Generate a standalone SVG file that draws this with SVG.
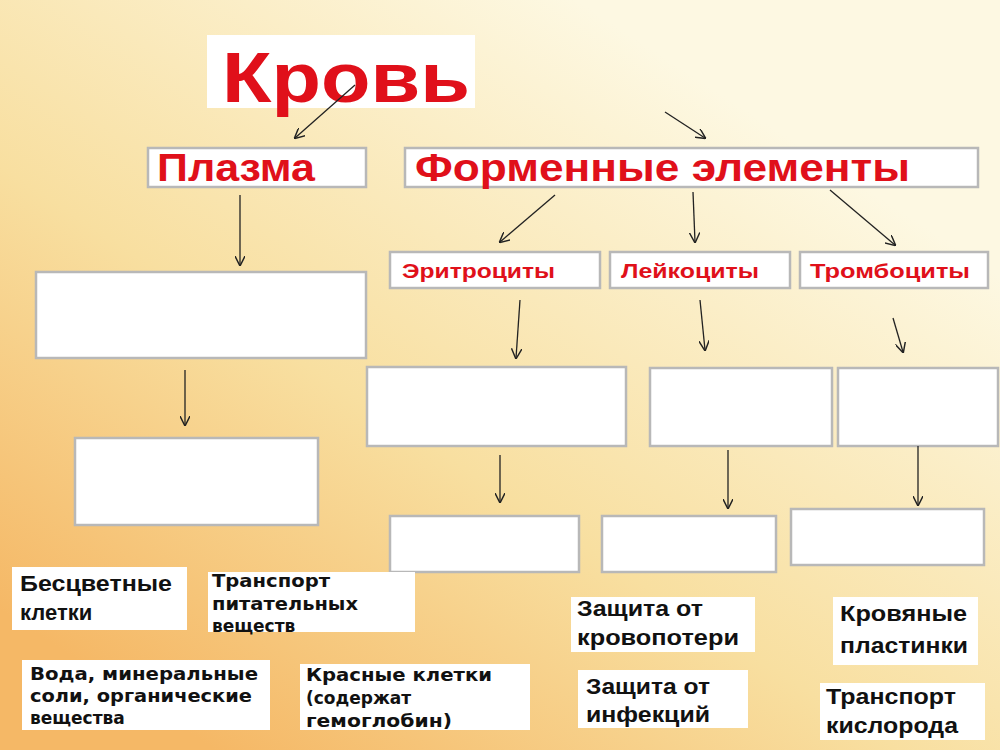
<svg xmlns="http://www.w3.org/2000/svg" width="1000" height="750" viewBox="0 0 1000 750">
<defs>
<linearGradient id="bg" x1="0.1" y1="0.9" x2="0.75" y2="0.15">
<stop offset="0" stop-color="#f5b866"/>
<stop offset="0.45" stop-color="#f8dfa0"/>
<stop offset="1" stop-color="#fdf8e2"/>
</linearGradient>
<marker id="ah" viewBox="0 0 10 10" refX="9" refY="5" markerWidth="8" markerHeight="8" orient="auto"><path d="M0,0 L10,5 L0,10" fill="none" stroke="#222" stroke-width="1.4"/></marker>
</defs>
<style>
.b{fill:#fff;stroke:#b8b8b8;stroke-width:2.5}
.w{fill:#fff;stroke:none}
.r{fill:#e0101a;font-family:"Liberation Sans",Arial,sans-serif;font-weight:bold}
.t{fill:#111;font-family:"Liberation Sans",Arial,sans-serif;font-weight:bold;font-size:22px}
.s{fill:#111;font-family:"DejaVu Sans",sans-serif;font-weight:bold;font-size:17px}
.c line{stroke:#222;stroke-width:1.3;marker-end:url(#ah)}
</style>
<rect width="1000" height="750" fill="url(#bg)"/>
<g id="krov"><rect class="w" x="207" y="35" width="268" height="73"/><text class="r" x="222" y="102" font-size="70" textLength="248" lengthAdjust="spacingAndGlyphs">Кровь</text></g>
<g id="plazma"><rect class="b" x="148" y="148" width="218" height="39"/><text class="r" x="157" y="181" font-size="38" textLength="158" lengthAdjust="spacingAndGlyphs">Плазма</text></g>
<g id="formennye"><rect class="b" x="405" y="148" width="573" height="39"/><text class="r" x="415" y="181" font-size="38" textLength="495" lengthAdjust="spacingAndGlyphs">Форменные элементы</text></g>
<g id="p1"><rect class="b" x="36" y="272" width="330" height="86"/></g>
<g id="p2"><rect class="b" x="75" y="438" width="243" height="87"/></g>
<g id="eritro"><rect class="b" x="390" y="252" width="210" height="36"/><text class="r" x="402" y="278" font-size="21" textLength="153" lengthAdjust="spacingAndGlyphs">Эритроциты</text></g>
<g id="leiko"><rect class="b" x="610" y="252" width="180" height="36"/><text class="r" x="621" y="278" font-size="21" textLength="138" lengthAdjust="spacingAndGlyphs">Лейкоциты</text></g>
<g id="trombo"><rect class="b" x="800" y="252" width="188" height="36"/><text class="r" x="810" y="278" font-size="21" textLength="160" lengthAdjust="spacingAndGlyphs">Тромбоциты</text></g>
<g id="e1"><rect class="b" x="367" y="367" width="259" height="79"/></g>
<g id="l1"><rect class="b" x="650" y="368" width="182" height="78"/></g>
<g id="t1"><rect class="b" x="838" y="368" width="160" height="78"/></g>
<g id="e2"><rect class="b" x="390" y="516" width="189" height="56"/></g>
<g id="l2"><rect class="b" x="602" y="516" width="174" height="56"/></g>
<g id="t2"><rect class="b" x="791" y="509" width="193" height="56"/></g>
<g id="a1"><rect class="w" x="12" y="567" width="175" height="63"/><text class="t" x="20" y="591" textLength="152" lengthAdjust="spacingAndGlyphs">Бесцветные</text><text class="t" x="20" y="620">клетки</text></g>
<g id="a2"><rect class="w" x="208" y="572" width="207" height="60"/><text class="s" x="212" y="587" textLength="118" lengthAdjust="spacingAndGlyphs">Транспорт</text><text class="s" x="212" y="610" textLength="146" lengthAdjust="spacingAndGlyphs">питательных</text><text class="s" x="212" y="632">веществ</text></g>
<g id="a3"><rect class="w" x="22" y="660" width="248" height="70"/><text class="s" x="30" y="680" textLength="228" lengthAdjust="spacingAndGlyphs">Вода, минеральные</text><text class="s" x="30" y="702" textLength="222" lengthAdjust="spacingAndGlyphs">соли, органические</text><text class="s" x="30" y="724">вещества</text></g>
<g id="a4"><rect class="w" x="300" y="664" width="230" height="66"/><text class="s" x="306" y="681" textLength="186" lengthAdjust="spacingAndGlyphs">Красные клетки</text><text class="s" x="306" y="704">(содержат</text><text class="s" x="306" y="727" textLength="146" lengthAdjust="spacingAndGlyphs">гемоглобин)</text></g>
<g id="a5"><rect class="w" x="571" y="597" width="184" height="55"/><text class="t" x="577" y="616" textLength="126" lengthAdjust="spacingAndGlyphs">Защита от</text><text class="t" x="577" y="645" textLength="162" lengthAdjust="spacingAndGlyphs">кровопотери</text></g>
<g id="a6"><rect class="w" x="578" y="670" width="170" height="58"/><text class="t" x="586" y="694" textLength="124" lengthAdjust="spacingAndGlyphs">Защита от</text><text class="t" x="586" y="722" textLength="124" lengthAdjust="spacingAndGlyphs">инфекций</text></g>
<g id="a7"><rect class="w" x="833" y="597" width="145" height="68"/><text class="t" x="840" y="621" textLength="127" lengthAdjust="spacingAndGlyphs">Кровяные</text><text class="t" x="840" y="653" textLength="128" lengthAdjust="spacingAndGlyphs">пластинки</text></g>
<g id="a8"><rect class="w" x="820" y="683" width="165" height="57"/><text class="t" x="826" y="704" textLength="130" lengthAdjust="spacingAndGlyphs">Транспорт</text><text class="t" x="826" y="733" textLength="132" lengthAdjust="spacingAndGlyphs">кислорода</text></g>
<g class="c" id="connectors">
<line x1="355" y1="85" x2="295" y2="138"/>
<line x1="665" y1="112" x2="705" y2="138"/>
<line x1="240" y1="195" x2="240" y2="265"/>
<line x1="185" y1="370" x2="185" y2="425"/>
<line x1="555" y1="195" x2="500" y2="242"/>
<line x1="693" y1="192" x2="695" y2="242"/>
<line x1="830" y1="190" x2="895" y2="245"/>
<line x1="520" y1="300" x2="516" y2="358"/>
<line x1="700" y1="300" x2="705" y2="350"/>
<line x1="893" y1="318" x2="903" y2="352"/>
<line x1="500" y1="455" x2="500" y2="502"/>
<line x1="728" y1="450" x2="728" y2="508"/>
<line x1="918" y1="446" x2="918" y2="505"/>
</g>
</svg>
